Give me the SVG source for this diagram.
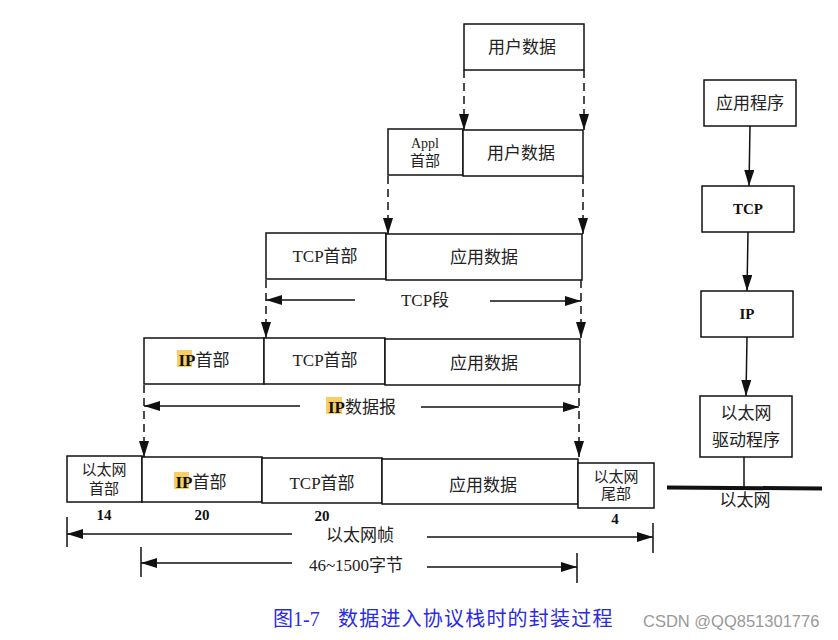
<svg xmlns="http://www.w3.org/2000/svg" width="838" height="640" viewBox="0 0 838 640">
<style>
.box{fill:#fff;stroke:#111;stroke-width:1.5}
.t{font-family:"Liberation Serif","Noto Sans CJK SC",serif;font-size:17px;fill:#222;text-anchor:middle}
.s{font-size:15px}
.b{font-weight:bold;fill:#111}
.dash{stroke:#111;stroke-width:1.5;stroke-dasharray:8,5;fill:none}
.sol{stroke:#111;stroke-width:1.5;fill:none}
.hl{fill:#f7cf63}
.cap{font-family:"Liberation Serif","Noto Sans CJK SC",serif;font-size:20px;fill:#2a2ae6}
</style>
<defs>
<marker id="ah2" markerWidth="16" markerHeight="10" refX="16" refY="5" orient="auto" markerUnits="userSpaceOnUse" viewBox="0 0 16 10">
<path d="M0,0 L16,5 L0,10 z" fill="#111"/>
</marker>
</defs>

<g id="connectors">
<line class="dash" x1="464" y1="70" x2="464" y2="130" marker-end="url(#ah2)"/>
<line class="dash" x1="584" y1="70" x2="584" y2="130" marker-end="url(#ah2)"/>
<line class="dash" x1="388" y1="176" x2="388" y2="234" marker-end="url(#ah2)"/>
<line class="dash" x1="583" y1="176" x2="583" y2="234" marker-end="url(#ah2)"/>
<line class="dash" x1="266" y1="280" x2="266" y2="338" marker-end="url(#ah2)"/>
<line class="dash" x1="581" y1="280" x2="581" y2="338" marker-end="url(#ah2)"/>
<line class="dash" x1="144" y1="385" x2="144" y2="457" marker-end="url(#ah2)"/>
<line class="dash" x1="579" y1="385" x2="579" y2="457" marker-end="url(#ah2)"/>
<line class="sol" x1="355" y1="300" x2="266" y2="300" marker-end="url(#ah2)"/>
<line class="sol" x1="490" y1="301" x2="581" y2="301" marker-end="url(#ah2)"/>
<line class="sol" x1="300" y1="406" x2="144" y2="406" marker-end="url(#ah2)"/>
<line class="sol" x1="421" y1="407" x2="579" y2="407" marker-end="url(#ah2)"/>
<line class="sol" x1="67" y1="517" x2="67" y2="547"/>
<line class="sol" x1="292" y1="534" x2="67" y2="534" marker-end="url(#ah2)"/>
<line class="sol" x1="427" y1="537" x2="653" y2="537" marker-end="url(#ah2)"/>
<line class="sol" x1="653" y1="523" x2="653" y2="553"/>
<line class="sol" x1="141" y1="547" x2="141" y2="577"/>
<line class="sol" x1="292" y1="563" x2="141" y2="563" marker-end="url(#ah2)"/>
<line class="sol" x1="427" y1="567" x2="577" y2="567" marker-end="url(#ah2)"/>
<line class="sol" x1="577" y1="553" x2="577" y2="583"/>
<line class="sol" x1="750" y1="126" x2="749" y2="186" marker-end="url(#ah2)"/>
<line class="sol" x1="748" y1="232" x2="747" y2="291" marker-end="url(#ah2)"/>
<line class="sol" x1="747" y1="337" x2="746" y2="396" marker-end="url(#ah2)"/>
<line class="sol" x1="744" y1="457" x2="744" y2="487"/>
<line x1="667" y1="487.5" x2="822" y2="488.5" stroke="#111" stroke-width="4"/>
</g>

<g id="labels">
<text class="t" x="425" y="306">TCP段</text>
<rect class="hl" x="326" y="397" width="16" height="17"/>
<text class="t" x="362" y="413"><tspan class="b">IP</tspan>数据报</text>
<text class="t b s" x="104" y="520">14</text>
<text class="t b s" x="202" y="520">20</text>
<text class="t b s" x="322" y="521">20</text>
<text class="t b s" x="615" y="524">4</text>
<text class="t" x="360" y="541">以太网帧</text>
<text class="t" x="356" y="571">46~1500字节</text>
<text class="t" x="745" y="506">以太网</text>
</g>

<g id="row1-user-data">
<rect class="box" x="464" y="24" width="120" height="46"/>
<text class="t" x="522" y="53">用户数据</text>
</g>

<g id="row2-appl-header">
<rect class="box" x="388" y="129" width="75" height="46"/>
<text class="t s" x="425" y="148" style="font-size:14px">Appl</text>
<text class="t s" x="425" y="166">首部</text>
</g>
<g id="row2-user-data">
<rect class="box" x="463" y="130" width="120" height="46"/>
<text class="t" x="521" y="159">用户数据</text>
</g>

<g id="row3-tcp-header">
<rect class="box" x="266" y="233" width="120" height="46"/>
<text class="t" x="325" y="262">TCP首部</text>
</g>
<g id="row3-app-data">
<rect class="box" x="386" y="234" width="196" height="46"/>
<text class="t" x="484" y="263">应用数据</text>
</g>

<g id="row4-ip-header">
<rect class="box" x="144" y="338" width="120" height="46"/>
<rect class="hl" x="177" y="350" width="15" height="17"/>
<text class="t" x="204" y="366"><tspan class="b">IP</tspan>首部</text>
</g>
<g id="row4-tcp-header">
<rect class="box" x="264" y="338" width="121" height="46"/>
<text class="t" x="325" y="366">TCP首部</text>
</g>
<g id="row4-app-data">
<rect class="box" x="385" y="339" width="195" height="46"/>
<text class="t" x="484" y="369">应用数据</text>
</g>

<g id="row5-eth-header">
<rect class="box" x="67" y="456" width="75" height="46"/>
<text class="t s" x="104" y="475">以太网</text>
<text class="t s" x="104" y="494">首部</text>
</g>
<g id="row5-ip-header">
<rect class="box" x="142" y="457" width="120" height="45"/>
<rect class="hl" x="174" y="472" width="15" height="17"/>
<text class="t" x="201" y="488"><tspan class="b">IP</tspan>首部</text>
</g>
<g id="row5-tcp-header">
<rect class="box" x="262" y="458" width="120" height="45"/>
<text class="t" x="322" y="489">TCP首部</text>
</g>
<g id="row5-app-data">
<rect class="box" x="382" y="459" width="196" height="45"/>
<text class="t" x="483" y="491">应用数据</text>
</g>
<g id="row5-eth-trailer">
<rect class="box" x="578" y="463" width="76" height="45"/>
<text class="t s" x="616" y="482">以太网</text>
<text class="t s" x="616" y="499">尾部</text>
</g>

<g id="stack-app">
<rect class="box" x="704" y="80" width="92" height="46"/>
<text class="t" x="750" y="109">应用程序</text>
</g>
<g id="stack-tcp">
<rect class="box" x="702" y="186" width="92" height="46"/>
<text class="t b s" x="748" y="214">TCP</text>
</g>
<g id="stack-ip">
<rect class="box" x="701" y="291" width="92" height="46"/>
<text class="t b s" x="747" y="319">IP</text>
</g>
<g id="stack-eth-driver">
<rect class="box" x="700" y="396" width="92" height="61"/>
<text class="t" x="746" y="419">以太网</text>
<text class="t" x="746" y="446">驱动程序</text>
</g>

<g id="caption">
<text class="cap" x="273" y="626">图1-7</text>
<text class="cap" x="338" y="626" letter-spacing="1.2">数据进入协议栈时的封装过程</text>
<text x="643" y="627" style="font-family:'Liberation Sans',sans-serif;font-size:16.5px;fill:#999">CSDN @QQ851301776</text>
</g>
</svg>
